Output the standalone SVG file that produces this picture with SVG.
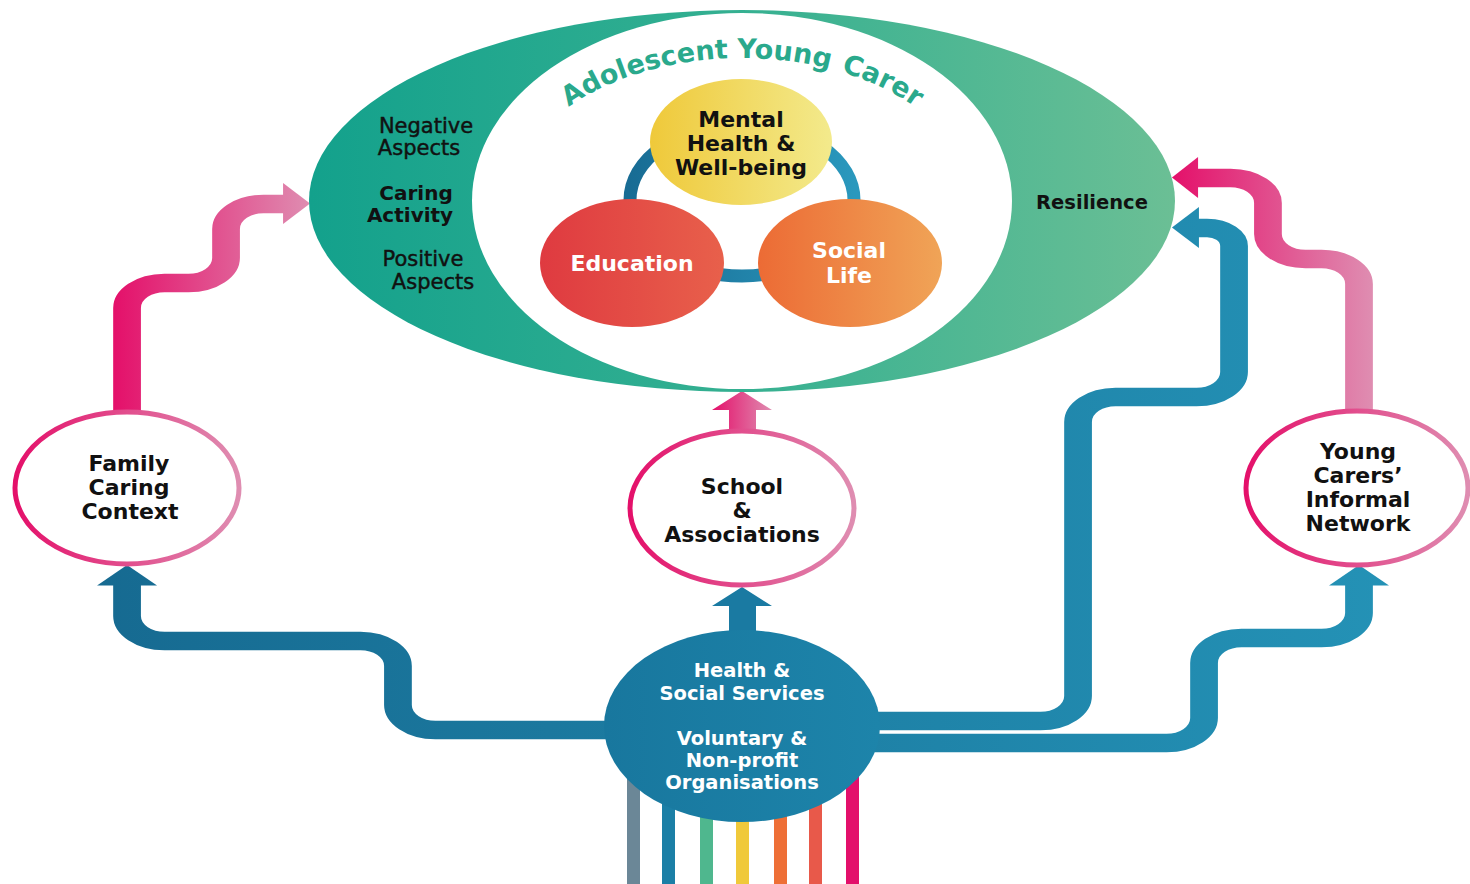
<svg xmlns="http://www.w3.org/2000/svg" width="1470" height="884" viewBox="0 0 1470 884">
<defs>
  <style>
    .t { font-family: "DejaVu Sans", "Liberation Sans", sans-serif; font-weight: bold; font-size: 22px; text-anchor: middle; fill: #111; }
    .side { font-size: 21px; font-weight: normal; stroke: #111; stroke-width: 0.45; }
    .sideb { font-size: 20px; }
    .w { fill: #fff; }
    .hss { font-size: 19.5px; fill: #fff; }
    .title { font-family: "DejaVu Sans", "Liberation Sans", sans-serif; font-weight: bold; font-size: 27px; fill: #2aa98c; }
    .ring { fill: #fff; stroke: url(#gPinkRing); stroke-width: 5; }
    .pipe { fill: none; stroke-width: 18.5; }
  </style>
  <linearGradient id="gBig" x1="0" y1="0" x2="1" y2="0">
    <stop offset="0" stop-color="#13a18c"/>
    <stop offset="0.5" stop-color="#35b091"/>
    <stop offset="1" stop-color="#6bbf95"/>
  </linearGradient>
  <linearGradient id="gPinkRing" x1="0" y1="0" x2="1" y2="0">
    <stop offset="0" stop-color="#e4106a"/>
    <stop offset="1" stop-color="#df8db1"/>
  </linearGradient>
  <linearGradient id="gPinkArrow" x1="0" y1="0" x2="1" y2="0">
    <stop offset="0" stop-color="#e4106a"/>
    <stop offset="1" stop-color="#df8db1"/>
  </linearGradient>
  <linearGradient id="gPinkL" gradientUnits="userSpaceOnUse" x1="76" y1="0" x2="207" y2="0">
    <stop offset="0" stop-color="#e4106a"/>
    <stop offset="1" stop-color="#df8db1"/>
  </linearGradient>
  <linearGradient id="gPinkR" gradientUnits="userSpaceOnUse" x1="781" y1="0" x2="915" y2="0">
    <stop offset="0" stop-color="#e4106a"/>
    <stop offset="1" stop-color="#df8db1"/>
  </linearGradient>
  <linearGradient id="gBlue" gradientUnits="userSpaceOnUse" x1="60" y1="0" x2="930" y2="0">
    <stop offset="0" stop-color="#166a91"/>
    <stop offset="1" stop-color="#2492b6"/>
  </linearGradient>
  <linearGradient id="gRingBlue" x1="0" y1="0" x2="1" y2="0">
    <stop offset="0" stop-color="#186c94"/>
    <stop offset="1" stop-color="#2a98bd"/>
  </linearGradient>
  <linearGradient id="gHss" x1="0" y1="0" x2="1" y2="0">
    <stop offset="0" stop-color="#18779e"/>
    <stop offset="1" stop-color="#1d84aa"/>
  </linearGradient>
  <linearGradient id="gYellow" x1="0" y1="0" x2="1" y2="0">
    <stop offset="0" stop-color="#efc93a"/>
    <stop offset="1" stop-color="#f3ea8c"/>
  </linearGradient>
  <linearGradient id="gRed" x1="0" y1="0" x2="1" y2="0">
    <stop offset="0" stop-color="#df3a40"/>
    <stop offset="1" stop-color="#e8604b"/>
  </linearGradient>
  <linearGradient id="gOrange" x1="0" y1="0" x2="1" y2="0">
    <stop offset="0" stop-color="#ec6b35"/>
    <stop offset="1" stop-color="#f0a457"/>
  </linearGradient>
  <path id="titleArc" d="M512,201 A230,143 0 0 1 972,201"/>
</defs>

<rect x="0" y="0" width="1470" height="884" fill="#fff"/>

<!-- coloured stripes below the services node -->
<g id="stripes">
  <rect x="627" y="740" width="13" height="144" fill="#6b8797"/>
  <rect x="662" y="740" width="13" height="144" fill="#1b7fa6"/>
  <rect x="700" y="740" width="13" height="144" fill="#4fb78e"/>
  <rect x="736" y="740" width="13" height="144" fill="#f0c93a"/>
  <rect x="774" y="740" width="13" height="144" fill="#ee6f36"/>
  <rect x="809" y="740" width="13" height="144" fill="#e8594a"/>
  <rect x="846" y="740" width="13" height="144" fill="#e3106b"/>
</g>

<g id="connectors">
  <g transform="scale(1.5,1)">
    <!-- Family -> Adolescent Young Carer -->
    <path class="pipe" stroke="url(#gPinkL)" d="M84.7,414 V308 A25,25 0 0 1 109.7,283 H125.7 A25,25 0 0 0 150.7,258 V229 A25,25 0 0 1 175.7,204 H190"/>
    <polygon fill="url(#gPinkL)" points="188.7,183 206.7,203.5 188.7,224"/>
    <!-- Young Carers' Network -> Resilience -->
    <path class="pipe" stroke="url(#gPinkR)" d="M906,414 V284 A25,25 0 0 0 881,259 H870.3 A25,25 0 0 1 845.3,234 V203 A25,25 0 0 0 820.3,178 H797"/>
    <polygon fill="url(#gPinkR)" points="798.7,157 781.3,177.5 798.7,198"/>
    <!-- Services -> Family -->
    <path class="pipe" stroke="url(#gBlue)" d="M410,730 H290.3 A25,25 0 0 1 265.3,705 V666 A25,25 0 0 0 240.3,641 H109.7 A25,25 0 0 1 84.7,616 V584"/>
    <polygon fill="url(#gBlue)" points="64.7,585.5 84.7,565 104.7,585.5"/>
    <!-- Services -> Resilience -->
    <path class="pipe" stroke="url(#gBlue)" d="M573,721 H693.7 A25,25 0 0 0 718.7,696 V422 A25,25 0 0 1 743.7,397 H797.7 A25,25 0 0 0 822.7,372 V246 A18,18 0 0 0 804.7,228 H798"/>
    <polygon fill="url(#gBlue)" points="799.3,207 781.3,227.5 799.3,248"/>
    <!-- Services -> Young Carers' Network -->
    <path class="pipe" stroke="url(#gBlue)" d="M573,743 H777.7 A25,25 0 0 0 802.7,718 V663 A25,25 0 0 1 827.7,638 H881 A25,25 0 0 0 906,613 V584"/>
    <polygon fill="url(#gBlue)" points="886,585.5 906,565 926,585.5"/>
  </g>
  <!-- Services -> School -->
  <polygon fill="#1a7aa2" points="729,640 729,606 712,606 742,587 772,606 756,606 756,640"/>
  <!-- School -> Adolescent Young Carer -->
  <polygon fill="url(#gPinkArrow)" points="729,438 729,410 712,410 742,391 772,410 756,410 756,438"/>
</g>

<g id="node-carer">
  <ellipse cx="742" cy="201" rx="433" ry="191" fill="url(#gBig)"/>
  <ellipse cx="742" cy="201" rx="270" ry="188" fill="#fff"/>
  <text class="title"><textPath href="#titleArc" startOffset="114">Adolescent</textPath></text>
  <text class="title"><textPath href="#titleArc" startOffset="292">Young</textPath></text>
  <text class="title"><textPath href="#titleArc" startOffset="397">Carer</textPath></text>
  <text class="t side" x="426" y="133">Negative</text>
  <text class="t side" x="419" y="155">Aspects</text>
  <text class="t sideb" x="416" y="200">Caring</text>
  <text class="t sideb" x="410" y="222">Activity</text>
  <text class="t side" x="423" y="266">Positive</text>
  <text class="t side" x="433" y="289">Aspects</text>
  <text class="t" x="1092" y="209" style="font-size:19.5px">Resilience</text>
  <ellipse cx="742" cy="200" rx="112" ry="76" fill="none" stroke="url(#gRingBlue)" stroke-width="13"/>
</g>

<g id="node-wellbeing">
  <ellipse cx="741" cy="142" rx="91" ry="63" fill="url(#gYellow)"/>
  <text class="t" x="741" y="127">Mental</text>
  <text class="t" x="741" y="151">Health &amp;</text>
  <text class="t" x="741" y="175">Well-being</text>
</g>

<g id="node-education">
  <ellipse cx="632" cy="263" rx="92" ry="64" fill="url(#gRed)"/>
  <text class="t w" x="632" y="271">Education</text>
</g>

<g id="node-social">
  <ellipse cx="850" cy="263" rx="92" ry="64" fill="url(#gOrange)"/>
  <text class="t w" x="849" y="258">Social</text>
  <text class="t w" x="849" y="283">Life</text>
</g>

<g id="node-family">
  <ellipse class="ring" cx="127" cy="488" rx="112" ry="76"/>
  <text class="t" x="129" y="471">Family</text>
  <text class="t" x="129" y="495">Caring</text>
  <text class="t" x="130" y="519">Context</text>
</g>

<g id="node-school">
  <ellipse class="ring" cx="742" cy="508" rx="112" ry="77"/>
  <text class="t" x="742" y="494">School</text>
  <text class="t" x="742" y="518">&amp;</text>
  <text class="t" x="742" y="542">Associations</text>
</g>

<g id="node-network">
  <ellipse class="ring" cx="1357" cy="488" rx="111" ry="77"/>
  <text class="t" x="1358" y="459">Young</text>
  <text class="t" x="1358" y="483">Carers’</text>
  <text class="t" x="1358" y="507">Informal</text>
  <text class="t" x="1358" y="531">Network</text>
</g>

<g id="node-services">
  <ellipse cx="742" cy="726" rx="138" ry="96" fill="url(#gHss)"/>
  <text class="t hss" x="742" y="677">Health &amp;</text>
  <text class="t hss" x="742" y="700">Social Services</text>
  <text class="t hss" x="742" y="745">Voluntary &amp;</text>
  <text class="t hss" x="742" y="767">Non-profit</text>
  <text class="t hss" x="742" y="789">Organisations</text>
</g>
</svg>
